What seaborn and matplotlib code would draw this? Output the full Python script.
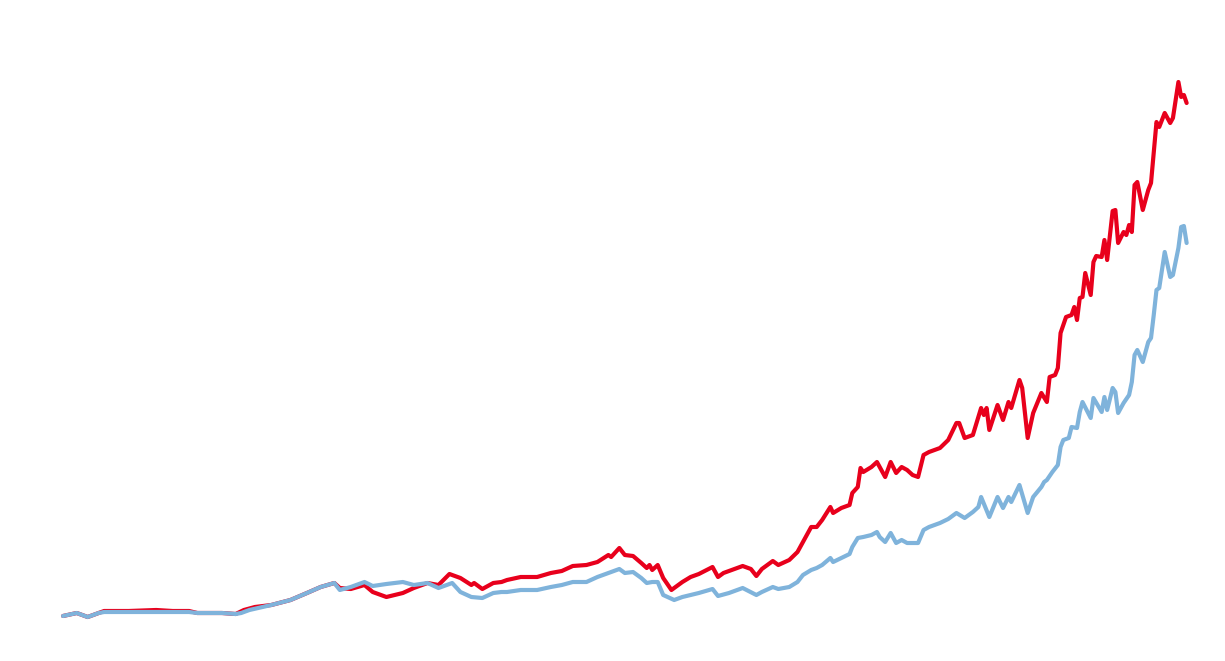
import numpy as np
import pandas as pd
import matplotlib
matplotlib.use("Agg")
import matplotlib.pyplot as plt
import seaborn as sns

# month index (0 = first month) and index level
red_months = [0, 5, 9, 13, 15, 24, 34, 40, 46, 49, 58, 63, 66, 70, 76, 83, 89, 94, 99, 101,
              105, 110, 113, 118, 124, 128, 133, 137, 141, 145, 149, 150, 153, 157, 160, 162,
              167, 173, 178, 182, 186, 191, 195, 199, 200, 203, 205, 208, 211, 213, 214, 215,
              217, 219, 222, 226, 229, 232, 237, 239, 241, 243, 248, 251, 253, 255, 259, 261,
              265, 268, 270, 273, 275, 277, 280, 281, 284, 287, 288, 290, 291, 292, 295, 297,
              298, 300, 302, 304, 306, 308, 310, 312, 314, 316, 320, 323, 326, 327, 329, 332,
              334, 335, 336, 337, 338, 341, 343, 345, 346, 349, 350, 352, 354, 357, 359, 360,
              362, 363, 364, 366, 368, 369, 370, 371, 372, 373, 375, 376, 377, 379, 380, 381,
              383, 384, 385, 387, 388, 389, 390, 391, 392, 394, 396, 397, 398, 399, 400, 402,
              404, 405, 407, 408, 409, 410]
red_values = [100, 103, 99, 103, 105, 105, 106, 105, 105, 103, 103, 102, 106, 109, 111, 116, 123, 129, 133, 128,
              127, 131, 124, 119, 123, 128, 133, 131, 142, 138, 131, 133, 127, 133, 134, 136,
              139, 139, 143, 145, 150, 151, 154, 161, 159, 168, 161, 160, 153, 148, 151, 146,
              151, 138, 126, 134, 139, 142, 149, 139, 143, 145, 150, 147, 140, 147, 155, 151,
              156, 164, 174, 189, 189, 196, 209, 203, 208, 211, 223, 229, 248, 244, 249, 254,
              249, 239, 254, 243, 249, 246, 241, 239, 261, 264, 268, 276, 293, 293, 278, 281,
              299, 308, 301, 308, 286, 311, 296, 314, 308, 336, 328, 278, 303, 323, 314, 339,
              341, 348, 383, 399, 401, 409, 396, 418, 419, 443, 421, 454, 460, 459, 476, 456,
              505, 506, 473, 484, 481, 491, 484, 531, 534, 506, 526, 533, 563, 594, 589, 603,
              593, 598, 634, 619, 621, 613]

blue_months = [0, 5, 9, 13, 15, 34, 40, 46, 49, 58, 63, 65, 68, 76, 83, 89, 94, 99, 101, 105,
               110, 113, 118, 124, 128, 133, 137, 142, 145, 149, 153, 157, 160, 162, 167, 173,
               178, 182, 186, 191, 195, 199, 203, 205, 208, 211, 213, 215, 217, 219, 223, 226,
               229, 232, 237, 239, 243, 248, 253, 255, 259, 261, 265, 268, 270, 273, 275, 277,
               280, 281, 284, 287, 288, 290, 292, 295, 297, 298, 300, 302, 304, 306, 308, 312,
               314, 316, 320, 323, 326, 329, 332, 334, 335, 338, 341, 343, 345, 346, 349, 352,
               354, 357, 358, 359, 361, 363, 364, 365, 367, 368, 370, 371, 372, 375, 376, 379,
               380, 381, 383, 384, 385, 387, 389, 390, 391, 392, 394, 396, 397, 398, 399, 400,
               402, 404, 405, 407, 408, 409, 410]
blue_values = [100, 103, 99, 103, 104, 104, 104, 104, 103, 103, 102, 103, 106, 111, 116, 123, 129, 133, 126, 129,
               134, 130, 132, 134, 131, 133, 128, 133, 124, 119, 118, 123, 124, 124, 126, 126,
               129, 131, 134, 134, 139, 143, 147, 143, 144, 138, 133, 134, 134, 121, 116, 119,
               121, 123, 127, 120, 123, 128, 121, 124, 129, 127, 129, 134, 141, 146, 148, 151,
               158, 154, 158, 162, 169, 178, 179, 181, 184, 179, 174, 183, 173, 176, 173, 173,
               186, 189, 193, 197, 203, 198, 204, 209, 219, 199, 219, 208, 219, 214, 231, 203,
               219, 229, 234, 236, 244, 251, 269, 276, 278, 289, 288, 304, 314, 298, 318, 304,
               319, 306, 328, 324, 303, 313, 321, 334, 361, 366, 354, 374, 378, 401, 426, 428,
               464, 439, 441, 468, 489, 490, 473]

RED = "#e8001c"
BLUE = "#7fb3db"

red_df = pd.DataFrame({"month": red_months, "value": red_values})
blue_df = pd.DataFrame({"month": blue_months, "value": blue_values})

sns.set_theme(style="white")

fig = plt.figure(figsize=(12.25, 6.61), dpi=100)
ax = fig.add_axes([0, 0, 1, 1])

sns.lineplot(data=red_df, x="month", y="value", color=RED, linewidth=3.0, ax=ax,
             solid_joinstyle="round", solid_capstyle="round")
sns.lineplot(data=blue_df, x="month", y="value", color=BLUE, linewidth=3.0, ax=ax,
             solid_joinstyle="round", solid_capstyle="round")

ax.set_xlim(-23, 424)
ax.set_ylim(55, 716)
ax.axis("off")

fig.savefig("out.png", dpi=100, facecolor="white")
plt.close(fig)
